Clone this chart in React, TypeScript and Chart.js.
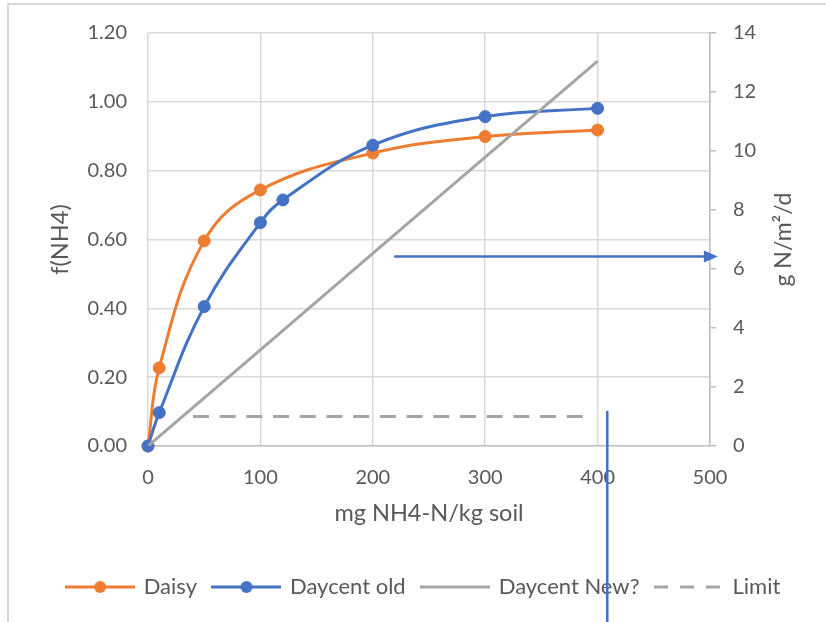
import React, { useEffect, useRef } from "react";
import { Chart, registerables } from "chart.js";

Chart.register(...registerables);

// ---- data ----
const daisyX = [0, 10, 50, 100, 200, 300, 400];
const daisyY = [0, 0.227, 0.596, 0.744, 0.851, 0.899, 0.918];
const oldX = [0, 10, 50, 100, 120, 200, 300, 400];
const oldY = [0, 0.097, 0.405, 0.649, 0.715, 0.874, 0.957, 0.981];
const newX = [0, 100, 200, 300, 400];
const newY = [0, 3.26, 6.53, 9.79, 13.05];
const limitX = [40, 390];
const limitY = [1, 1];
const seriesNames = ["Daisy", "Daycent old", "Daycent New?", "Limit"];
const xTitle = "mg NH4-N/kg soil";
const yTitle = "f(NH4)";
const y2Title = "g N/m²/d";
// annotation (in data units: x, right-axis y)
const arrowFrom = { x: 219, y: 6.42 };
const arrowTo = { x: 507, y: 6.42 };
const vLine = { x: 408.6, yTop: 1.19 };

const ORANGE = "#ED7D31";
const BLUE = "#4472C4";
const GRAY = "#A5A5A5";
const TEXT = "#595959";
const GRID = "#d9d9d9";
const FONT = "Lato, 'Open Sans', sans-serif";

const pts = (xs: number[], ys: number[]) => xs.map((x, i) => ({ x, y: ys[i] }));

function legendImage(color: string, marker: boolean, dash: number[] | null) {
  const c = document.createElement("canvas");
  c.width = 70;
  c.height = 14;
  const g = c.getContext("2d")!;
  g.strokeStyle = color;
  g.lineWidth = 3;
  if (dash) g.setLineDash(dash);
  g.beginPath();
  g.moveTo(0, 7);
  g.lineTo(70, 7);
  g.stroke();
  if (marker) {
    g.setLineDash([]);
    g.fillStyle = color;
    g.beginPath();
    g.arc(35, 7, 6, 0, Math.PI * 2);
    g.fill();
  }
  return c;
}

export default function App() {
  const ref = useRef<HTMLCanvasElement | null>(null);
  useEffect(() => {
    if (!ref.current) return;
    const imgs = [
      legendImage(ORANGE, true, null),
      legendImage(BLUE, true, null),
      legendImage(GRAY, false, null),
      legendImage(GRAY, false, [14, 12]),
    ];
    const colors = [ORANGE, BLUE, GRAY, GRAY];

    const framePlugin = {
      id: "frame",
      beforeDraw(chart: any) {
        const ctx = chart.ctx;
        ctx.save();
        ctx.fillStyle = "#ffffff";
        ctx.fillRect(0, 0, chart.width, chart.height);
        ctx.strokeStyle = GRID;
        ctx.lineWidth = 2;
        ctx.strokeRect(8, 4, 2000, 2000);
        ctx.restore();
      },
      afterDraw(chart: any) {
        const ctx = chart.ctx;
        const xs = chart.scales.x;
        const y2 = chart.scales.y2;
        const ca = chart.chartArea;
        ctx.save();
        // right axis title (reads bottom to top)
        ctx.translate(ca.right + 74, (ca.top + ca.bottom) / 2);
        ctx.rotate(-Math.PI / 2);
        ctx.fillStyle = TEXT;
        ctx.font = `23px ${FONT}`;
        ctx.textAlign = "center";
        ctx.textBaseline = "middle";
        ctx.fillText(y2Title, 0, 0);
        ctx.restore();

        ctx.save();
        ctx.strokeStyle = BLUE;
        ctx.fillStyle = BLUE;
        ctx.lineWidth = 2.5;
        const ax0 = xs.getPixelForValue(arrowFrom.x);
        const ax1 = xs.getPixelForValue(arrowTo.x);
        const ay = y2.getPixelForValue(arrowFrom.y);
        ctx.beginPath();
        ctx.moveTo(ax0, ay);
        ctx.lineTo(ax1 - 12, ay);
        ctx.stroke();
        ctx.beginPath();
        ctx.moveTo(ax1, ay);
        ctx.lineTo(ax1 - 14, ay - 6);
        ctx.lineTo(ax1 - 14, ay + 6);
        ctx.closePath();
        ctx.fill();
        const vx = xs.getPixelForValue(vLine.x);
        ctx.beginPath();
        ctx.moveTo(vx, y2.getPixelForValue(vLine.yTop));
        ctx.lineTo(vx, chart.height);
        ctx.stroke();
        ctx.restore();
      },
    };

    const chart = new Chart(ref.current, {
      type: "line",
      data: {
        datasets: [
          {
            label: seriesNames[0],
            data: pts(daisyX, daisyY),
            borderColor: ORANGE,
            backgroundColor: ORANGE,
            borderWidth: 3,
            pointRadius: 6,
            pointBorderWidth: 1,
            tension: 0.4,
            yAxisID: "y",
            order: 4,
            clip: false,
          },
          {
            label: seriesNames[1],
            data: pts(oldX, oldY),
            borderColor: BLUE,
            backgroundColor: BLUE,
            borderWidth: 3,
            pointRadius: 6,
            pointBorderWidth: 1,
            tension: 0.4,
            yAxisID: "y",
            order: 3,
            clip: false,
          },
          {
            label: seriesNames[2],
            data: pts(newX, newY),
            borderColor: GRAY,
            backgroundColor: GRAY,
            borderWidth: 3,
            pointRadius: 0,
            yAxisID: "y2",
            order: 2,
          },
          {
            label: seriesNames[3],
            data: pts(limitX, limitY),
            borderColor: GRAY,
            backgroundColor: GRAY,
            borderWidth: 3,
            borderDash: [16, 10.7],
            pointRadius: 0,
            yAxisID: "y2",
            order: 1,
          },
        ],
      },
      options: {
        responsive: false,
        animation: false,
        layout: { padding: { left: 22, right: 0, top: 33, bottom: 14 } },
        plugins: {
          tooltip: { enabled: false },
          legend: {
            position: "bottom",
            labels: {
              usePointStyle: true,
              pointStyleWidth: 65,
              padding: 17,
              color: TEXT,
              font: { size: 22, family: FONT },
              generateLabels: () =>
                seriesNames.map((name, i) => ({
                  text: name,
                  pointStyle: imgs[i] as any,
                  fillStyle: colors[i],
                  strokeStyle: colors[i],
                  lineWidth: 0,
                  hidden: false,
                  datasetIndex: i,
                  fontColor: TEXT,
                })),
            },
          },
        },
        scales: {
          x: {
            type: "linear",
            min: 0,
            max: 500,
            ticks: { stepSize: 100, color: TEXT, font: { size: 20, family: FONT }, padding: 20 },
            grid: { color: GRID, lineWidth: 1.5, drawTicks: false },
            border: { display: true, color: "#bfbfbf", width: 1.5 },
            title: {
              display: true,
              text: xTitle,
              color: TEXT,
              font: { size: 23.5, family: FONT },
              padding: { top: 0, bottom: 31 },
            },
            afterFit: (s: any) => {
              s.height = 113;
            },
          },
          y: {
            position: "left",
            min: 0,
            max: 1.2,
            ticks: {
              stepSize: 0.2,
              color: TEXT,
              font: { size: 20, family: FONT },
              padding: 21,
              callback: (v: any) => Number(v).toFixed(2),
            },
            grid: { color: GRID, lineWidth: 1.5, drawTicks: false },
            border: { display: false },
            title: {
              display: true,
              text: yTitle,
              color: TEXT,
              font: { size: 23.5, family: FONT },
              padding: { top: 24, bottom: 0 },
            },
            afterFit: (s: any) => {
              s.width = 126;
            },
          },
          y2: {
            position: "right",
            min: 0,
            max: 14,
            ticks: { stepSize: 2, color: TEXT, font: { size: 20, family: FONT }, padding: 17 },
            grid: { drawOnChartArea: false, drawTicks: true, tickLength: 6, color: "#bfbfbf", lineWidth: 1.5 },
            border: { display: true, color: "#bfbfbf", width: 1.5 },
            afterFit: (s: any) => {
              s.width = 116;
            },
          },
        },
      } as any,
      plugins: [framePlugin],
    });
    return () => chart.destroy();
  }, []);

  return (
    <div style={{ position: "fixed", left: 0, top: 0, width: 826, height: 622 }}>
      <canvas ref={ref} width={826} height={622} />
    </div>
  );
}
